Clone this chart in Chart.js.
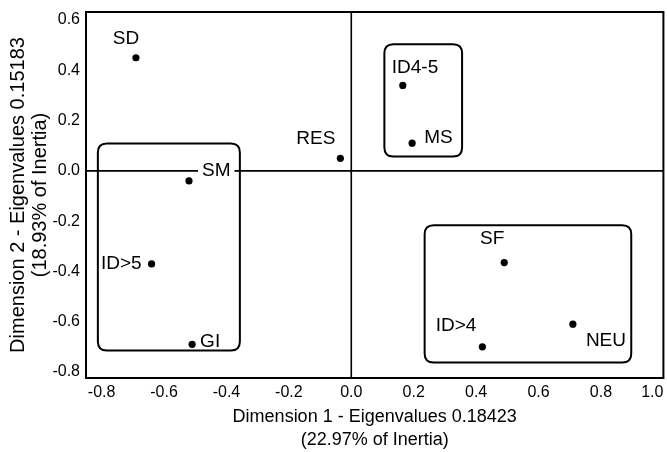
<!DOCTYPE html>
<html>
<head>
<meta charset="utf-8">
<script src="https://cdn.jsdelivr.net/npm/chart.js@4.4.1/dist/chart.umd.min.js"></script>
<style>
  html, body { margin: 0; padding: 0; background: #fff; }
  #wrap { width: 667px; height: 452px; }
</style>
</head>
<body>
<div id="wrap"><canvas id="c" width="667" height="452"></canvas></div>
<script>
// ---- data ----
const pointNames = ['SD', 'SM', 'ID>5', 'GI', 'RES', 'ID4-5', 'MS', 'SF', 'ID>4', 'NEU'];
const dim1Values = [-0.69, -0.52, -0.64, -0.51, -0.035, 0.165, 0.195, 0.49, 0.42, 0.71];
const dim2Values = [0.45, -0.04, -0.37, -0.69, 0.05, 0.34, 0.11, -0.365, -0.70, -0.61];

// tick values
const xTickValues = [-0.8, -0.6, -0.4, -0.2, 0.0, 0.2, 0.4, 0.6, 0.8, 1.0];
const yTickValues = [-0.8, -0.6, -0.4, -0.2, 0.0, 0.2, 0.4, 0.6];

// group outlines (data units): [xMin, xMax, yMin, yMax]
const groupBoxes = [
  [-0.812, -0.357, -0.715, 0.109],
  [0.106, 0.355, 0.057, 0.504],
  [0.235, 0.897, -0.762, -0.216]
];

const xTitle = ['Dimension 1 - Eigenvalues 0.18423', '(22.97% of Inertia)'];
const yTitle = ['Dimension 2 - Eigenvalues 0.15183', '(18.93% of Inertia)'];

// ---- label placement (style, pixels relative to point) ----
const labelPlacement = [
  ['center', -10, -19, false],
  ['left', 13, -10, true],
  ['right', -10, 0, false],
  ['left', 8, -3, false],
  ['right', -5, -20, false],
  ['left', -11, -18, false],
  ['left', 12, -5, false],
  ['center', -12, -24, false],
  ['right', -6, -21, false],
  ['left', 13, 17, false]
];

const FONT = "'Liberation Sans', Arial, sans-serif";

const points = dim1Values.map((x, i) => ({ x: x, y: dim2Values[i] }));

function roundRect(ctx, x, y, w, h, r) {
  ctx.beginPath();
  ctx.moveTo(x + r, y);
  ctx.lineTo(x + w - r, y);
  ctx.quadraticCurveTo(x + w, y, x + w, y + r);
  ctx.lineTo(x + w, y + h - r);
  ctx.quadraticCurveTo(x + w, y + h, x + w - r, y + h);
  ctx.lineTo(x + r, y + h);
  ctx.quadraticCurveTo(x, y + h, x, y + h - r);
  ctx.lineTo(x, y + r);
  ctx.quadraticCurveTo(x, y, x + r, y);
  ctx.closePath();
}

const decor = {
  id: 'decor',
  beforeDatasetsDraw(chart) {
    const { ctx, chartArea: a, scales: { x, y } } = chart;
    ctx.save();
    ctx.strokeStyle = '#000';
    // zero lines
    ctx.lineWidth = 1.6;
    const x0 = x.getPixelForValue(0), y0 = y.getPixelForValue(0);
    ctx.beginPath();
    ctx.moveTo(x0, a.top); ctx.lineTo(x0, a.bottom);
    ctx.moveTo(a.left, y0); ctx.lineTo(a.right, y0);
    ctx.stroke();
    // group boxes
    ctx.lineWidth = 2;
    groupBoxes.forEach(b => {
      const l = x.getPixelForValue(b[0]), r = x.getPixelForValue(b[1]);
      const t = y.getPixelForValue(b[3]), btm = y.getPixelForValue(b[2]);
      roundRect(ctx, l, t, r - l, btm - t, 9);
      ctx.stroke();
    });
    // labels
    ctx.font = '19px ' + FONT;
    ctx.textBaseline = 'middle';
    const meta = chart.getDatasetMeta(0);
    meta.data.forEach((pt, i) => {
      const p = labelPlacement[i];
      const tx = pt.x + p[1], ty = pt.y + p[2];
      ctx.textAlign = p[0];
      if (p[3]) {
        const w = ctx.measureText(pointNames[i]).width;
        let lx = tx;
        if (p[0] === 'center') lx = tx - w / 2;
        if (p[0] === 'right') lx = tx - w;
        ctx.fillStyle = '#fff';
        ctx.fillRect(lx - 4, ty - 9, w + 8, 18);
      }
      ctx.fillStyle = '#000';
      ctx.fillText(pointNames[i], tx, ty);
    });
    ctx.restore();
  },
  afterDraw(chart) {
    const { ctx, chartArea: a } = chart;
    ctx.save();
    ctx.strokeStyle = '#000';
    ctx.lineWidth = 2;
    ctx.strokeRect(a.left, a.top, a.right - a.left, a.bottom - a.top);
    ctx.restore();
  }
};

function fmt(v) {
  const r = Math.round(v * 5) / 5;
  return Math.abs(r - v) < 1e-9 ? r.toFixed(1) : '';
}

new Chart(document.getElementById('c'), {
  type: 'scatter',
  data: {
    datasets: [{
      data: points,
      pointRadius: 3.6,
      pointHoverRadius: 3.6,
      pointBackgroundColor: '#000',
      pointBorderColor: '#000',
      pointBorderWidth: 0
    }]
  },
  options: {
    responsive: false,
    animation: false,
    devicePixelRatio: 1,
    layout: { padding: { top: 12, right: 3, left: 0, bottom: 0 } },
    plugins: { legend: { display: false }, tooltip: { enabled: false } },
    scales: {
      x: {
        type: 'linear',
        position: 'bottom',
        min: -0.85,
        max: 1.0,
        grid: { display: false, drawTicks: false },
        border: { display: false },
        afterBuildTicks(s) {
          s.ticks = [{ value: s.min }].concat(xTickValues.map(v => ({ value: v })));
        },
        ticks: {
          align: 'inner',
          autoSkip: false,
          maxRotation: 0,
          padding: 5,
          color: '#000',
          font: { family: FONT, size: 16 },
          callback: fmt
        },
        title: {
          display: true,
          text: xTitle,
          color: '#000',
          font: { family: FONT, size: 18, lineHeight: 1.3 },
          padding: { top: 0, bottom: 0 }
        },
        afterFit(s) { s.height = 74; s.paddingLeft = 0; s.paddingRight = 0; }
      },
      y: {
        type: 'linear',
        position: 'left',
        min: -0.824,
        max: 0.632,
        grid: { display: false, drawTicks: false },
        border: { display: false },
        afterBuildTicks(s) {
          s.ticks = yTickValues.map(v => ({ value: v }));
        },
        ticks: {
          autoSkip: false,
          padding: 6,
          color: '#000',
          font: { family: FONT, size: 16 },
          callback: fmt
        },
        title: {
          display: true,
          text: yTitle,
          color: '#000',
          font: { family: FONT, size: 20, lineHeight: 1.07 },
          padding: { top: 8, bottom: 0 }
        },
        afterFit(s) { s.width = 86; s.paddingTop = 0; s.paddingBottom = 0; }
      }
    }
  },
  plugins: [decor]
});
</script>
</body>
</html>
